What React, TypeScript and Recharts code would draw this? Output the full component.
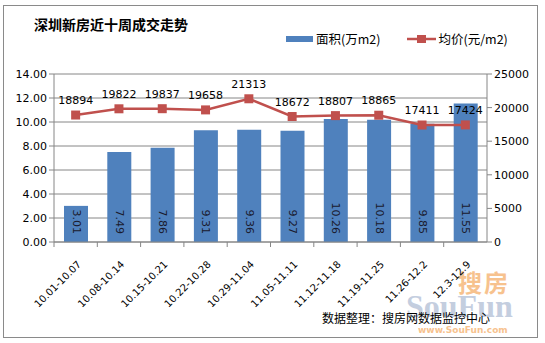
import { ComposedChart, Bar, Line, XAxis, YAxis, CartesianGrid, Legend, LabelList } from "recharts";

const weeks = [
  "10.01-10.07",
  "10.08-10.14",
  "10.15-10.21",
  "10.22-10.28",
  "10.29-11.04",
  "11.05-11.11",
  "11.12-11.18",
  "11.19-11.25",
  "11.26-12.2",
  "12.3-12.9",
];
const area = [3.01, 7.49, 7.86, 9.31, 9.36, 9.27, 10.26, 10.18, 9.85, 11.55];
const price = [18894, 19822, 19837, 19658, 21313, 18672, 18807, 18865, 17411, 17424];
const leftTicks = [0, 2, 4, 6, 8, 10, 12, 14];
const rightTicks = [0, 5000, 10000, 15000, 20000, 25000];

const data = weeks.map((w, i) => ({ week: w, area: area[i], price: price[i] }));

const FONT = "'DejaVu Sans', sans-serif";
const BLUE = "#4F81BD";
const RED = "#C0504D";

const XTick = (props: any) => {
  const { x, y, payload } = props;
  const half = 21.65;
  const ax = x + 6;
  const ay = y + 15;
  return (
    <g>
      <line x1={x - half} y1={y - 8} x2={x - half} y2={y - 3} stroke="#868686" />
      <text
        x={ax}
        y={ay}
        transform={`rotate(-45, ${ax}, ${ay})`}
        textAnchor="end"
        fontSize={10}
        fontFamily={FONT}
        fill="#000"
      >
        {payload.value}
      </text>
    </g>
  );
};

const BarValue = (props: any) => {
  const { x, y, width, height, value } = props;
  const cx = x + width / 2;
  const bottom = y + height - 8;
  return (
    <text
      x={cx}
      y={bottom}
      transform={`rotate(90, ${cx}, ${bottom})`}
      textAnchor="end"
      dominantBaseline="central"
      fontSize={11}
      fontFamily={FONT}
      fill="#1a1a2e"
    >
      {value.toFixed(2)}
    </text>
  );
};

const LegendBox = () => (
  <div style={{ display: "flex", alignItems: "center", fontFamily: "'Noto Sans CJK SC', sans-serif", fontSize: 12.5, color: "#000" }}>
    <span style={{ display: "inline-block", width: 27, height: 6, background: BLUE, marginRight: 3 }} />
    <span style={{ marginRight: 27 }}>面积(万m2)</span>
    <svg width={29} height={10} style={{ marginRight: 2 }}>
      <line x1={0} y1={5} x2={29} y2={5} stroke={RED} strokeWidth={2.5} />
      <rect x={10} y={1} width={9} height={8} fill={RED} />
    </svg>
    <span>均价(元/m2)</span>
  </div>
);

export default function App() {
  return (
    <div style={{ position: "absolute", left: 0, top: 0, width: 545, height: 343, background: "#fff" }}>
      <div style={{ position: "absolute", left: 3, top: 5, width: 533, height: 331, border: "1px solid #8a8a8a" }} />
      <div
        style={{
          position: "absolute",
          left: 34,
          top: 14,
          fontFamily: "'Noto Sans CJK SC', sans-serif",
          fontWeight: 700,
          fontSize: 14,
          color: "#000",
        }}
      >
        深圳新房近十周成交走势
      </div>
      <div style={{ position: "absolute", left: 458, top: 264, fontFamily: "'Noto Sans CJK SC', sans-serif", fontWeight: 700, fontSize: 24, color: "#F7C28E", letterSpacing: 2 }}>
        搜房
      </div>
      <div style={{ position: "absolute", left: 406, top: 288, fontFamily: "'Liberation Serif', serif", fontWeight: 700, fontSize: 32, color: "#C4CEDF" }}>
        SouFun
      </div>
      <div style={{ position: "absolute", left: 418, top: 325, fontFamily: FONT, fontWeight: 700, fontSize: 9, color: "#F7C28E" }}>
        www.SouFun.com
      </div>
      <div style={{ position: "absolute", left: 322, top: 309, fontFamily: "'Noto Sans CJK SC', sans-serif", fontSize: 12, color: "#000" }}>
        数据整理：搜房网数据监控中心
      </div>
      <ComposedChart
        width={545}
        height={343}
        data={data}
        margin={{ top: 55, right: 0, bottom: 0, left: 0 }}
        barSize={24}
        style={{ position: "absolute", left: 0, top: 0 }}
      >
        <CartesianGrid yAxisId="left" vertical={false} stroke="#868686" />
        <XAxis
          dataKey="week"
          interval={0}
          tickLine={false}
          axisLine={{ stroke: "#868686" }}
          tick={<XTick />}
          height={101}
        />
        <YAxis
          yAxisId="left"
          width={54}
          domain={[0, 14]}
          ticks={leftTicks}
          tickFormatter={(v: number) => v.toFixed(2)}
          axisLine={{ stroke: "#868686" }}
          tickLine={{ stroke: "#868686" }}
          tickSize={5}
          tick={{ fontSize: 11, fontFamily: FONT, fill: "#000" }}
        />
        <YAxis
          yAxisId="right"
          orientation="right"
          width={58}
          domain={[0, 25000]}
          ticks={rightTicks}
          axisLine={{ stroke: "#868686" }}
          tickLine={{ stroke: "#868686" }}
          tickSize={5}
          tick={{ fontSize: 11, fontFamily: FONT, fill: "#000", textAnchor: "start" }}
        />
        <Legend verticalAlign="top" content={<LegendBox />} wrapperStyle={{ position: "absolute", left: 286, top: 29, width: 250 }} />
        <Bar yAxisId="left" dataKey="area" fill={BLUE} isAnimationActive={false}>
          <LabelList dataKey="area" content={<BarValue />} />
        </Bar>
        <Line
          yAxisId="right"
          dataKey="price"
          stroke={RED}
          strokeWidth={2.5}
          isAnimationActive={false}
          dot={(p: any) => <rect key={p.index} x={p.cx - 4.5} y={p.cy - 4.5} width={9} height={9} fill={RED} />}
        >
          <LabelList dataKey="price" position="top" offset={11} fontSize={11} fontFamily={FONT} fill="#000" />
        </Line>
      </ComposedChart>
    </div>
  );
}
